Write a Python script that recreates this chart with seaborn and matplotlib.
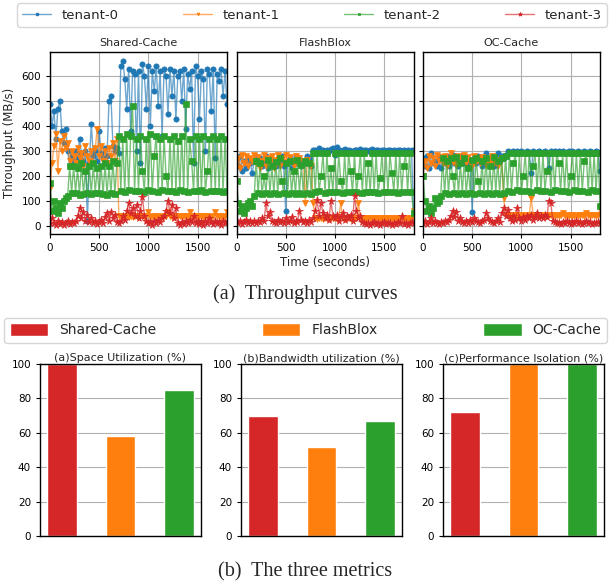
import matplotlib
matplotlib.use("Agg")
import matplotlib.pyplot as plt
from matplotlib.colors import to_rgba
from matplotlib.patches import Patch
import seaborn as sns

# sample times (seconds)
TIME = list(range(0, 1801, 20))

TENANTS = ["tenant-0", "tenant-1", "tenant-2", "tenant-3"]
TENANT_COLORS = ["#1f77b4", "#ff7f0e", "#2ca02c", "#d62728"]
MARKERS = ["o", "v", "s", "*"]

# Shared-Cache throughput (MB/s)
sc_t0 = [490, 400, 460, 350, 470, 500, 380, 330, 390, 300,
         240, 280, 260, 300, 270, 350, 290, 260, 300, 20,
         250, 410, 280, 300, 260, 380, 290, 270, 310, 280,
         500, 520, 320, 300, 310, 290,
         640, 660, 590, 470, 630, 380, 620, 610, 300, 620,
         250, 650, 600, 470, 640, 400, 620, 540, 640, 480,
         620, 360, 630, 600, 450, 630, 520, 620, 430, 600,
         620, 500, 630, 390, 610, 550, 620, 250, 640, 600,
         430, 620, 590, 300, 630, 610, 460, 630, 270, 610,
         580, 630, 520, 620, 490]
sc_t1 = [150, 250, 320, 370, 220, 340, 300, 360, 310, 330,
         260, 300, 280, 250, 310, 270, 290, 240, 320, 280,
         260, 300, 250, 310, 390, 280, 320, 260, 300, 250,
         310, 280, 330, 260, 350, 40,
         38, 36, 40, 38, 36, 40, 37, 38, 40, 36,
         38, 40, 36, 38, 55, 37, 39, 36, 38, 40,
         37, 36, 38, 40, 55, 38, 36, 37, 39, 40,
         38, 36, 40, 38, 37, 55, 38, 36, 40, 37,
         38, 39, 36, 40, 38, 37, 36, 38, 55, 40,
         38, 36, 37, 39, 55]
sc_t2 = [170, 60, 100, 70, 50, 90, 70, 100, 110, 120,
         240, 130, 240, 132, 230, 125, 250, 128, 220, 130,
         240, 127, 250, 133, 230, 130, 240, 126, 250, 125,
         240, 131, 260, 128, 250, 360,
         140, 350, 137, 370, 142, 360, 480, 138, 350, 141,
         360, 220, 136, 350, 143, 370, 139, 280, 360, 137,
         350, 142, 360, 200, 138, 350, 141, 360, 136, 340,
         142, 360, 139, 490, 137, 350, 260, 141, 360, 138,
         350, 142, 360, 137, 220, 350, 140, 360, 138, 350,
         141, 360, 137, 350, 140]
sc_t3 = [10, 30, 10, 5, 20, 8, 15, 5, 10, 20,
         8, 15, 10, 20, 40, 70, 30, 55, 20, 45,
         15, 30, 10, 20, 8, 15, 25, 10, 35, 50,
         20, 55, 30, 45, 15, 10,
         20, 40, 25, 60, 90, 50, 70, 40, 85, 30,
         60, 115, 40, 20, 10, 15, 5, 20, 10, 25,
         15, 30, 40, 60, 100, 50, 85, 30, 70, 10,
         5, 15, 8, 20, 10, 25, 15, 40, 10, 20,
         8, 15, 5, 20, 10, 30, 15, 8, 20, 10,
         15, 5, 20, 10, 15]

# FlashBlox throughput (MB/s)
fb_t0 = [270, 240, 280, 220, 260, 230, 270, 250, 210, 260,
         280, 250, 270, 240, 260, 280, 230, 270, 250, 260,
         240, 270, 250, 280, 240, 60, 250, 270, 230, 260,
         280, 250, 270, 240, 260, 250, 280, 270, 240, 305,
         305, 300, 310, 302, 305, 298, 305, 300, 308, 310,
         285, 315, 305, 300, 302, 306, 300, 304, 300, 298,
         305, 302, 300, 306, 300, 303, 305, 300, 302, 306,
         300, 304, 302, 300, 305, 303, 300, 302, 305, 300,
         303, 300, 302, 305, 300, 303, 301, 305, 300, 302,
         50]
fb_t1 = [180, 270, 230, 285, 250, 280, 240, 270, 260, 285,
         250, 275, 230, 260, 285, 240, 270, 255, 280, 230,
         265, 285, 240, 270, 255, 285, 250, 275, 260, 240,
         280, 255, 270, 245, 260, 92, 265, 250, 240, 90,
         30, 28, 32, 30, 29, 31, 30, 28, 30, 32,
         30, 29, 31, 90, 30, 28, 30, 31, 29, 30,
         32, 30, 90, 29, 30, 31, 28, 30, 32, 30,
         29, 31, 30, 28, 30, 32, 29, 30, 31, 28,
         30, 32, 29, 30, 31, 28, 30, 29, 31, 30,
         60]
fb_t2 = [180, 90, 60, 80, 50, 70, 90, 100, 80, 120,
         260, 130, 250, 127, 200, 132, 265, 129, 240, 131,
         255, 128, 270, 180, 133, 250, 127, 260, 131, 220,
         129, 265, 132, 245, 128, 260, 131, 250, 127, 290,
         135, 290, 138, 200, 290, 133, 290, 136, 230, 134,
         290, 137, 290, 180, 133, 290, 136, 290, 220, 134,
         290, 137, 200, 290, 133, 290, 136, 250, 134, 290,
         137, 290, 133, 190, 290, 136, 290, 134, 290, 210,
         137, 290, 133, 290, 136, 240, 290, 134, 290, 137,
         50]
fb_t3 = [15, 10, 20, 8, 15, 25, 10, 20, 12, 18,
         10, 20, 15, 30, 20, 90, 40, 55, 20, 15,
         10, 25, 15, 20, 10, 30, 15, 20, 35, 10,
         20, 15, 60, 25, 15, 20, 10, 25, 15, 30,
         60, 103, 40, 90, 50, 30, 45, 25, 100, 40,
         30, 45, 20, 35, 50, 25, 40, 30, 45, 20,
         118, 60, 30, 40, 15, 10, 8, 12, 5, 10,
         15, 8, 12, 5, 10, 15, 8, 12, 10, 5,
         12, 8, 15, 10, 40, 8, 12, 5, 10, 15,
         10]

# OC-Cache throughput (MB/s)
oc_t0 = [270, 240, 280, 230, 290, 250, 260, 240, 280, 230,
         270, 250, 280, 240, 260, 285, 250, 270, 240, 265,
         280, 250, 270, 240, 260, 55, 270, 250, 280, 260,
         240, 270, 290, 250, 265, 280, 240, 270, 290, 260,
         280, 270, 285, 300, 295, 290, 300, 295, 300, 290,
         300, 295, 290, 300, 295, 210, 300, 290, 295, 300,
         290, 295, 300, 290, 230, 300, 295, 300, 290, 300,
         295, 300, 290, 295, 300, 290, 300, 295, 290, 300,
         295, 290, 300, 295, 290, 300, 295, 290, 300, 295,
         220]
oc_t1 = [200, 260, 230, 280, 250, 270, 240, 285, 260, 275,
         250, 280, 240, 270, 290, 255, 275, 245, 280, 260,
         270, 285, 250, 275, 260, 240, 280, 255, 270, 250,
         275, 260, 245, 270, 255, 280, 250, 265, 240, 255,
         270, 110, 45, 42, 40, 44, 41, 43, 40, 42,
         44, 41, 43, 40, 42, 110, 44, 41, 43, 40,
         42, 44, 41, 40, 43, 42, 44, 41, 43, 40,
         42, 50, 41, 43, 40, 44, 42, 41, 43, 40,
         42, 44, 41, 50, 43, 40, 42, 44, 41, 43,
         70]
oc_t2 = [200, 100, 60, 80, 50, 70, 110, 90, 100, 120,
         270, 130, 260, 127, 270, 200, 132, 275, 128, 250,
         131, 270, 127, 230, 133, 265, 129, 270, 180, 131,
         260, 128, 270, 132, 240, 127, 275, 131, 260, 129,
         270, 132, 280, 140, 290, 137, 250, 290, 142, 290,
         138, 200, 290, 141, 290, 137, 240, 290, 142, 290,
         138, 290, 141, 220, 290, 137, 290, 142, 290, 250,
         138, 290, 141, 290, 137, 200, 290, 142, 290, 138,
         290, 141, 260, 290, 137, 290, 142, 290, 138, 290,
         80]
oc_t3 = [10, 20, 8, 15, 30, 10, 20, 12, 8, 15,
         10, 20, 15, 25, 40, 60, 35, 55, 20, 30,
         15, 10, 20, 12, 25, 15, 30, 20, 15, 10,
         20, 25, 50, 30, 20, 15, 10, 20, 30, 15,
         50, 70, 40, 65, 30, 20, 40, 25, 70, 30,
         20, 35, 25, 40, 30, 45, 25, 35, 50, 30,
         40, 30, 45, 35, 100, 90, 20, 15, 10, 12,
         8, 15, 10, 20, 12, 8, 15, 10, 20, 12,
         15, 8, 12, 20, 10, 15, 8, 12, 10, 15,
         10]

PANEL_TITLES = ["Shared-Cache", "FlashBlox", "OC-Cache"]
PANEL_DATA = [[sc_t0, sc_t1, sc_t2, sc_t3],
              [fb_t0, fb_t1, fb_t2, fb_t3],
              [oc_t0, oc_t1, oc_t2, oc_t3]]

# the three metrics (%)
SYSTEMS = ["Shared-Cache", "FlashBlox", "OC-Cache"]
BAR_COLORS = ["#d62728", "#ff7f0e", "#2ca02c"]
space_util = [100, 58, 85]
bandwidth_util = [69.5, 52, 67]
perf_isolation = [72, 100, 100]
METRIC_TITLES = ["(a)Space Utilization (%)", "(b)Bandwidth utilization (%)",
                 "(c)Performance Isolation (%)"]
METRIC_DATA = [space_util, bandwidth_util, perf_isolation]

sns.set_style("whitegrid")
plt.rcParams.update({
    "axes.edgecolor": "black",
    "axes.linewidth": 1.0,
    "grid.color": "#b0b0b0",
    "grid.linewidth": 0.8,
    "xtick.bottom": True,
    "ytick.left": True,
    "xtick.color": "black",
    "ytick.color": "black",
    "xtick.major.size": 3,
    "ytick.major.size": 3,
    "xtick.labelsize": 7.5,
    "ytick.labelsize": 7.5,
})

fig = plt.figure(figsize=(6.1, 5.84), dpi=100)
W, H = 610.0, 584.0

# (a) throughput curves
lefts = [50, 236.5, 423]
axes_top = []
for k in range(3):
    ax = fig.add_axes([lefts[k] / W, 1 - 234 / H, 177 / W, 182 / H])
    for i in range(4):
        c = TENANT_COLORS[i]
        sns.lineplot(x=TIME, y=PANEL_DATA[k][i], ax=ax, estimator=None,
                     color=to_rgba(c, 0.65), marker=MARKERS[i],
                     markersize=5.5 if MARKERS[i] == "*" else 3.8,
                     markerfacecolor=c, markeredgecolor=c, markeredgewidth=0.5,
                     linewidth=1.0, label=TENANTS[i], legend=False)
    ax.set_xlim(0, 1800)
    ax.set_ylim(-33, 697)
    ax.set_xticks([0, 500, 1000, 1500])
    ax.set_yticks(range(0, 601, 100))
    ax.set_title(PANEL_TITLES[k], fontsize=8, pad=4)
    if k == 0:
        ax.set_ylabel("Throughput (MB/s)", fontsize=8.5)
    else:
        ax.set_ylabel("")
        ax.tick_params(labelleft=False)
    ax.set_xlabel("Time (seconds)" if k == 1 else "", fontsize=8.5, labelpad=2)
    axes_top.append(ax)

handles, labels = axes_top[0].get_legend_handles_labels()
fig.legend(handles, labels, loc="lower left",
           bbox_to_anchor=(17 / W, 1 - 27 / H, 590 / W, 24 / H),
           mode="expand", ncol=4, fontsize=9.5, borderaxespad=0,
           handlelength=2.2, markerscale=0.55)

fig.text(0.5, 1 - 294 / H, "(a)  Throughput curves", ha="center", va="center",
         family="Liberation Serif", fontsize=14.5)

# (b) the three metrics
bar_lefts = [40, 241, 443]
for k in range(3):
    ax = fig.add_axes([bar_lefts[k] / W, 1 - 536 / H, 161 / W, 172 / H])
    sns.barplot(x=SYSTEMS, y=METRIC_DATA[k], hue=SYSTEMS, palette=BAR_COLORS,
                width=0.5, saturation=1, ax=ax, legend=False)
    ax.set_xlim(-0.375, 2.375)
    ax.set_ylim(0, 100)
    ax.set_xticks([])
    ax.set_yticks(range(0, 101, 20))
    ax.xaxis.grid(False)
    ax.set_xlabel("")
    ax.set_ylabel("")
    ax.set_title(METRIC_TITLES[k], fontsize=8, pad=2)

bar_handles = [Patch(facecolor=c, label=s) for c, s in zip(BAR_COLORS, SYSTEMS)]
fig.legend(handles=bar_handles, loc="lower left",
           bbox_to_anchor=(4 / W, 1 - 343 / H, 603 / W, 30 / H),
           mode="expand", ncol=3, fontsize=10, borderaxespad=0,
           handlelength=2.8, handleheight=1.0)

fig.text(0.5, 1 - 572 / H, "(b)  The three metrics", ha="center", va="center",
         family="Liberation Serif", fontsize=14.5)

fig.savefig("out.png", dpi=100)
